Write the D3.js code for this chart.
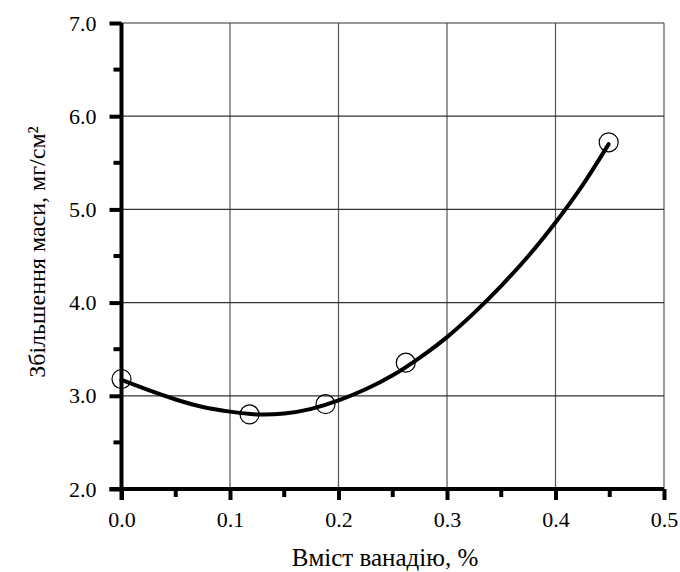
<!DOCTYPE html>
<html>
<head>
<meta charset="utf-8">
<script src="https://cdn.jsdelivr.net/npm/d3@7"></script>
</head>
<body style="margin:0; background:#fff">
<svg id="chart" width="680" height="572"></svg>
<script>
// measured points (vanadium content, %; mass gain, mg/cm2)
var pointX = [0.0, 0.118, 0.188, 0.262, 0.449];
var pointY = [3.18, 2.80, 2.91, 3.355, 5.72];

// fitted curve
var curveX = [0.0, 0.025, 0.05, 0.075, 0.1, 0.125, 0.15, 0.175, 0.2, 0.225, 0.25, 0.275, 0.3, 0.325, 0.35, 0.375, 0.4, 0.425, 0.449];
var curveY = [3.17, 3.06, 2.96, 2.88, 2.83, 2.80, 2.81, 2.86, 2.95, 3.07, 3.22, 3.41, 3.63, 3.89, 4.18, 4.50, 4.86, 5.26, 5.70];

var xTicks = [0.0, 0.1, 0.2, 0.3, 0.4, 0.5];
var yTicks = [2.0, 3.0, 4.0, 5.0, 6.0, 7.0];
var xMinor = [0.05, 0.15, 0.25, 0.35, 0.45];
var yMinor = [2.5, 3.5, 4.5, 5.5, 6.5];

var serif = "Liberation Serif";
var svg = d3.select("#chart");

var x = d3.scaleLinear().domain([0, 0.5]).range([121.5, 664]);
var y = d3.scaleLinear().domain([2, 7]).range([489, 23]);

// grid
var grid = svg.append("g");
grid.selectAll(".vg")
    .data(xTicks.slice(1))
    .enter().append("line")
    .attr("x1", function(d) { return x(d); })
    .attr("x2", function(d) { return x(d); })
    .attr("y1", y(2))
    .attr("y2", y(7))
    .attr("stroke", "#555")
    .attr("stroke-width", 1.2);
grid.selectAll(".hg")
    .data(yTicks.slice(1))
    .enter().append("line")
    .attr("x1", x(0))
    .attr("x2", x(0.5))
    .attr("y1", function(d) { return y(d); })
    .attr("y2", function(d) { return y(d); })
    .attr("stroke", "#333")
    .attr("stroke-width", 1.2);

// axes
var xAxis = svg.append("g")
    .attr("transform", "translate(0," + y(2) + ")")
    .call(d3.axisBottom(x).tickValues(xTicks).tickSize(11).tickPadding(11)
      .tickFormat(d3.format(".1f")));
var yAxis = svg.append("g")
    .attr("transform", "translate(" + x(0) + ",0)")
    .call(d3.axisLeft(y).tickValues(yTicks).tickSize(12).tickPadding(13)
      .tickFormat(d3.format(".1f")));

[xAxis, yAxis].forEach(function(a) {
  a.attr("font-family", serif).attr("font-size", 22).attr("text-anchor", null);
  a.select(".domain").attr("stroke", "#000").attr("stroke-width", 4);
  a.selectAll(".tick line").attr("stroke", "#000").attr("stroke-width", 4);
  a.selectAll(".tick text")
    .attr("font-family", serif)
    .attr("font-size", 22)
    .attr("fill", "#000");
});
xAxis.select(".domain").attr("d", "M" + (x(0) - 12) + ",0H" + x(0.5));
yAxis.select(".domain").attr("d", "M0," + y(7) + "V" + (y(2) + 11));

// place labels from the left edge instead of using text-anchor
xAxis.selectAll(".tick text").each(function() {
  var w = this.getComputedTextLength();
  d3.select(this).attr("x", -w / 2);
});
yAxis.selectAll(".tick text").each(function() {
  var w = this.getComputedTextLength();
  d3.select(this).attr("x", -25 - w);
});

// minor ticks
svg.append("g").selectAll("line")
    .data(xMinor)
    .enter().append("line")
    .attr("x1", function(d) { return x(d); })
    .attr("x2", function(d) { return x(d); })
    .attr("y1", y(2))
    .attr("y2", y(2) + 8)
    .attr("stroke", "#000")
    .attr("stroke-width", 4);
svg.append("g").selectAll("line")
    .data(yMinor)
    .enter().append("line")
    .attr("x1", x(0) - 8)
    .attr("x2", x(0))
    .attr("y1", function(d) { return y(d); })
    .attr("y2", function(d) { return y(d); })
    .attr("stroke", "#000")
    .attr("stroke-width", 4);

// curve
var line = d3.line()
    .x(function(d, i) { return x(curveX[i]); })
    .y(function(d, i) { return y(d); })
    .curve(d3.curveNatural);

svg.append("path")
    .datum(curveY)
    .attr("fill", "none")
    .attr("stroke", "#000")
    .attr("stroke-width", 4)
    .attr("stroke-linecap", "round")
    .attr("d", line);

// points
svg.append("g").selectAll("circle")
    .data(pointY)
    .enter().append("circle")
    .attr("cx", function(d, i) { return x(pointX[i]); })
    .attr("cy", function(d) { return y(d); })
    .attr("r", 9.5)
    .attr("fill", "none")
    .attr("stroke", "#000")
    .attr("stroke-width", 1.2);

// axis titles
var xTitle = svg.append("text")
    .attr("y", 566)
    .attr("font-family", serif)
    .attr("font-size", 25)
    .text("Вміст ванадію, %");
xTitle.attr("x", 385 - xTitle.node().getComputedTextLength() / 2);

var yTitle = svg.append("text")
    .attr("transform", "translate(45,252) rotate(-90)")
    .attr("font-family", serif)
    .attr("font-size", 24)
    .text("Збільшення маси, мг/см²");
yTitle.attr("x", -yTitle.node().getComputedTextLength() / 2);
</script>
</body>
</html>
